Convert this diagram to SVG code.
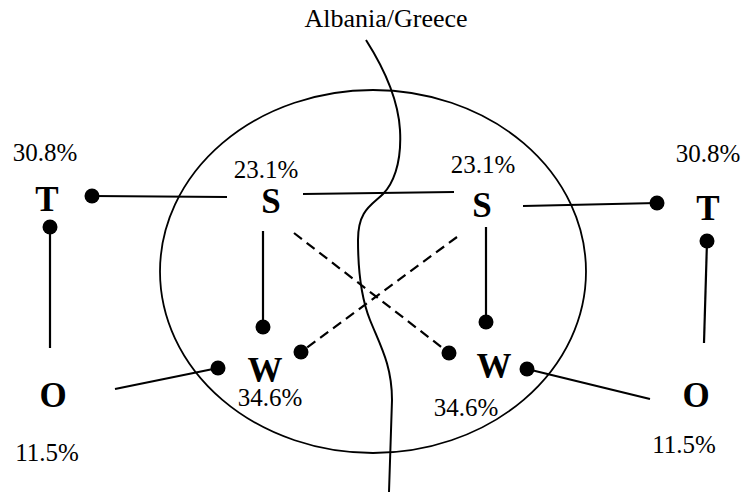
<svg xmlns="http://www.w3.org/2000/svg" width="744" height="497" viewBox="0 0 744 497">
<style>
.lbl{font-family:"Liberation Serif","Times New Roman",Times,serif;font-weight:bold;font-size:35px;fill:#000;text-anchor:middle}
.pct{font-family:"Liberation Serif","Times New Roman",Times,serif;font-size:25px;fill:#000;text-anchor:middle}
.ln{stroke:#000;stroke-width:2.2;fill:none}
.dash{stroke:#000;stroke-width:2.2;fill:none;stroke-dasharray:10,6}
.dot{fill:#000}
</style>
<rect width="744" height="497" fill="#fff"/>
<g id="region">
<ellipse cx="373" cy="271.5" rx="213" ry="181.5" fill="none" stroke="#000" stroke-width="1.8"/>
<path d="M366,40 C380,62 398,95 400,130 C402,165 392,185 383,194 C372,205 358,210 358,240 C358,270 362,300 370,320 C380,345 392,365 392,400 L389,492" fill="none" stroke="#000" stroke-width="2"/>
<text class="pct" x="386" y="27" style="font-size:26px">Albania/Greece</text>
</g>
<g id="connectors">
<line class="ln" x1="92" y1="196" x2="227" y2="197"/>
<circle class="dot" cx="92" cy="196" r="7.5"/>
<line class="ln" x1="50" y1="227" x2="50" y2="348"/>
<circle class="dot" cx="50" cy="227" r="7.5"/>
<line class="ln" x1="115" y1="389" x2="218" y2="368"/>
<circle class="dot" cx="218" cy="368" r="7.5"/>
<line class="ln" x1="263" y1="231" x2="263" y2="327"/>
<circle class="dot" cx="263" cy="327" r="7.5"/>
<line class="ln" x1="303" y1="194" x2="454" y2="192"/>
<line class="ln" x1="523" y1="206" x2="657" y2="203"/>
<circle class="dot" cx="657" cy="203" r="7.5"/>
<line class="ln" x1="707" y1="241" x2="704" y2="343"/>
<circle class="dot" cx="707" cy="241" r="7.5"/>
<line class="ln" x1="527" y1="369" x2="650" y2="399"/>
<circle class="dot" cx="527" cy="369" r="7.5"/>
<line class="ln" x1="486" y1="227" x2="486" y2="322"/>
<circle class="dot" cx="486" cy="322" r="7.5"/>
<line class="dash" x1="294" y1="233" x2="449" y2="353"/>
<circle class="dot" cx="449" cy="353" r="7.5"/>
<line class="dash" x1="457" y1="237" x2="301" y2="352"/>
<circle class="dot" cx="301" cy="352" r="7.5"/>
</g>
<g id="T-left"><text class="lbl" x="47" y="211">T</text><text class="pct" x="45" y="161">30.8%</text></g>
<g id="O-left"><text class="lbl" x="53" y="407">O</text><text class="pct" x="47" y="461">11.5%</text></g>
<g id="S-left"><text class="lbl" x="271" y="213">S</text><text class="pct" x="266" y="178">23.1%</text></g>
<g id="W-left"><text class="lbl" x="265" y="382">W</text><text class="pct" x="270" y="406">34.6%</text></g>
<g id="S-right"><text class="lbl" x="482" y="217">S</text><text class="pct" x="483" y="173">23.1%</text></g>
<g id="W-right"><text class="lbl" x="494" y="378">W</text><text class="pct" x="466" y="416">34.6%</text></g>
<g id="T-right"><text class="lbl" x="708" y="220">T</text><text class="pct" x="708" y="162">30.8%</text></g>
<g id="O-right"><text class="lbl" x="696" y="407">O</text><text class="pct" x="684" y="453">11.5%</text></g>
</svg>
